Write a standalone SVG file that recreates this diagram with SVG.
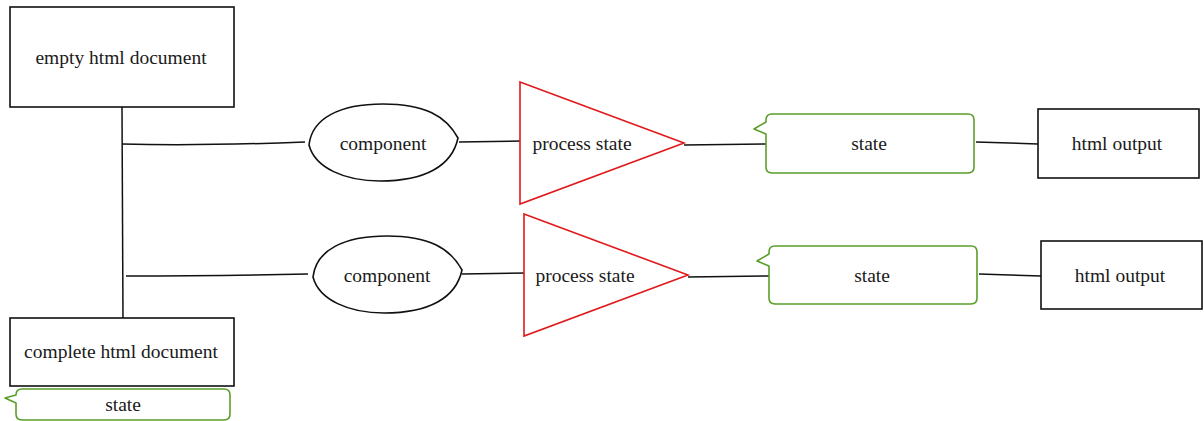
<svg xmlns="http://www.w3.org/2000/svg" width="1204" height="421" viewBox="0 0 1204 421">
<style>
.box{fill:#fff;stroke:#111;stroke-width:1.6}
.tri{fill:#fff;stroke:#e0191b;stroke-width:1.6}
.st{fill:#fff;stroke:#5a9e2a;stroke-width:1.6;stroke-linejoin:round}
.ln{fill:none;stroke:#111;stroke-width:1.5}
text{font-family:"Liberation Serif",serif;font-size:19.5px;fill:#1a1a1a;text-anchor:middle;dominant-baseline:central}
</style>
<rect width="1204" height="421" fill="#fff"/>
<g id="connectors">
<path class="ln" d="M122 107 L123 321"/>
<path class="ln" d="M122 144 Q200 146 305 142"/>
<path class="ln" d="M126 276 Q210 276 308 274"/>
<path class="ln" d="M459 142 L522 141"/>
<path class="ln" d="M462 274 L526 273"/>
<path class="ln" d="M684 145 L768 144"/>
<path class="ln" d="M688 277 L771 276"/>
<path class="ln" d="M976 142 L1038 144"/>
<path class="ln" d="M979 274 L1041 276"/>
</g>
<g id="empty-doc"><rect class="box" x="10" y="7" width="224" height="100"/><text x="121" y="57">empty html document</text></g>
<g id="component-1"><path class="box" d="M383 104 C425 104 446 116 458 138 C452 166 425 181 380 181 C345 181 315 168 309 145 C312 118 340 104 383 104 Z"/><text x="383" y="143">component</text></g>
<g id="process-1"><polygon class="tri" points="520,82 684,143 520,204"/><text x="582" y="143">process state</text></g>
<g id="state-1"><path class="st" d="M772 114 H968 Q974 114 974 120 V167 Q974 173 968 173 H772 Q766 173 766 167 V134 L754 129 L766 122 V120 Q766 114 772 114 Z"/><text x="869" y="143">state</text></g>
<g id="output-1"><rect class="box" x="1038" y="109" width="161" height="69"/><text x="1117" y="143">html output</text></g>
<g id="component-2"><path class="box" d="M387 236 C429 236 450 248 462 270 C456 298 429 313 384 313 C349 313 319 300 313 277 C316 250 344 236 387 236 Z"/><text x="387" y="275">component</text></g>
<g id="process-2"><polygon class="tri" points="524,214 688,275 524,336"/><text x="585" y="275">process state</text></g>
<g id="state-2"><path class="st" d="M775 246 H971 Q977 246 977 252 V298 Q977 304 971 304 H775 Q769 304 769 298 V266 L757 261 L769 254 V252 Q769 246 775 246 Z"/><text x="872" y="275">state</text></g>
<g id="output-2"><rect class="box" x="1041" y="241" width="161" height="68"/><text x="1120" y="275">html output</text></g>
<g id="complete-doc"><rect class="box" x="10" y="318" width="224" height="68"/><text x="121" y="351">complete html document</text></g>
<g id="state-3"><path class="st" d="M22 389 H224 Q230 389 230 395 V414 Q230 420 224 420 H22 Q16 420 16 414 V403 L5 398 L16 395 V395 Q16 389 22 389 Z"/><text x="123" y="404">state</text></g>
</svg>
